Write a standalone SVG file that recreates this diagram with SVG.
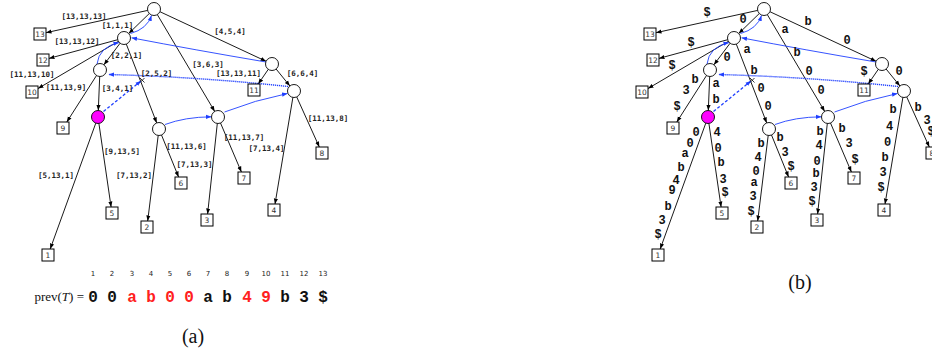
<svg xmlns="http://www.w3.org/2000/svg" width="932" height="353" viewBox="0 0 932 353">
<defs>
<marker id="ah" viewBox="0 0 10 10" refX="10" refY="5" markerWidth="5.5" markerHeight="5.5" markerUnits="userSpaceOnUse" orient="auto"><path d="M0,1.2 L10,5 L0,8.8 z" fill="#000"/></marker>
<marker id="bh" viewBox="0 0 10 10" refX="10" refY="5" markerWidth="5.5" markerHeight="5.5" markerUnits="userSpaceOnUse" orient="auto"><path d="M0,1.2 L10,5 L0,8.8 z" fill="#1f3fff"/></marker>
<style>
.n{fill:#fff;stroke:#000;stroke-width:0.9}
.m{fill:#ff00ff;stroke:#000;stroke-width:0.9}
.lf{fill:#fff;stroke:#000;stroke-width:1}
.lt{font-family:"DejaVu Sans",sans-serif;font-size:7.5px;fill:#333;text-anchor:middle;dominant-baseline:central}
.e{stroke:#000;stroke-width:0.9;fill:none;marker-end:url(#ah)}
.s{stroke:#1f3fff;stroke-width:0.9;fill:none;marker-end:url(#bh)}
.sd{stroke:#1f3fff;stroke-width:1.4;fill:none;stroke-dasharray:1.2,0.8;marker-end:url(#bh)}
.sk{stroke:#1f3fff;stroke-width:1.3;fill:none;stroke-dasharray:3,2;marker-end:url(#bh)}
.x{stroke:#000;stroke-width:0.8}
.bl{font-family:"DejaVu Sans Mono",monospace;font-size:7.5px;font-weight:bold;fill:#222;text-anchor:middle;dominant-baseline:central}
.cl{font-family:"Liberation Mono",monospace;font-size:12px;font-weight:bold;fill:#111;text-anchor:middle;dominant-baseline:central}
.num{font-family:"DejaVu Sans",sans-serif;font-size:7px;fill:#222;text-anchor:middle}
.ch{font-family:"Liberation Mono",monospace;font-size:16px;font-weight:bold;text-anchor:middle;fill:#111}
.r{fill:#ff2020}
.cap{font-family:"Liberation Serif",serif;font-size:20px;fill:#111;text-anchor:middle}
</style>
</defs>

<!-- ================= PANEL A ================= -->
<g id="panel-a">
<g id="a-connectors">
<line class="e" x1="147.7" y1="10.4" x2="46" y2="32.7"/>
<line class="e" x1="149.3" y1="13.5" x2="128.7" y2="33.5"/>
<line class="e" x1="157.3" y1="14.6" x2="214.7" y2="111.4"/>
<line class="e" x1="159.9" y1="11.7" x2="266.1" y2="61.3"/>
<line class="e" x1="117.7" y1="39.7" x2="49" y2="58.4"/>
<line class="e" x1="118.4" y1="41.3" x2="38" y2="88.5"/>
<line class="e" x1="120.1" y1="43.2" x2="103.9" y2="64.8"/>
<line class="e" x1="126.3" y1="44.1" x2="156.7" y2="122.9"/>
<line class="e" x1="96.5" y1="75.5" x2="66.8" y2="122"/>
<line class="e" x1="99.7" y1="76.5" x2="98.3" y2="110.5"/>
<line class="e" x1="95.8" y1="123.1" x2="50.2" y2="249"/>
<line class="e" x1="98.9" y1="123.4" x2="111.1" y2="207"/>
<line class="e" x1="158.2" y1="135.5" x2="147.7" y2="221"/>
<line class="e" x1="161.5" y1="135" x2="178.6" y2="177"/>
<line class="e" x1="217.3" y1="123.5" x2="207.6" y2="214"/>
<line class="e" x1="220.5" y1="123" x2="241.4" y2="172"/>
<line class="e" x1="268.3" y1="69.3" x2="258.2" y2="84"/>
<line class="e" x1="276.1" y1="69" x2="289.9" y2="86"/>
<line class="e" x1="292.9" y1="97.4" x2="275" y2="204"/>
<line class="e" x1="296.7" y1="96.9" x2="319.3" y2="147"/>
<!-- blue links -->
<path class="s" d="M130.5,33.5 Q147,29 151.5,15.5"/>
<path class="s" d="M97,64 Q99,47 119,42.5"/>
<path class="s" d="M266,62 Q195,50 131.5,37.8"/>
<path class="sd" d="M288,86.5 Q200,77 108.5,74.5"/>
<path class="sk" d="M103.5,111.5 L141,81"/>
<path class="s" d="M165,124.5 Q185,117 211.5,116.8"/>
<path class="s" d="M224.5,112 Q255,100 287.5,93.5"/>
<line class="x" x1="140" y1="78" x2="144.5" y2="82.5"/>
<line class="x" x1="140" y1="82.5" x2="144.5" y2="78"/>
<!-- edge labels -->
<text class="bl" x="84" y="16">[13,13,13]</text>
<text class="bl" x="117.5" y="25">[1,1,1]</text>
<text class="bl" x="77" y="41">[13,13,12]</text>
<text class="bl" x="32" y="74">[11,13,10]</text>
<text class="bl" x="126.5" y="55.5">[2,2,1]</text>
<text class="bl" x="156.5" y="73">[2,5,2]</text>
<text class="bl" x="66" y="87">[11,13,9]</text>
<text class="bl" x="117.5" y="88.5">[3,4,1]</text>
<text class="bl" x="230" y="31">[4,5,4]</text>
<text class="bl" x="208" y="64.5">[3,6,3]</text>
<text class="bl" x="238.5" y="73">[13,13,11]</text>
<text class="bl" x="302.5" y="73">[6,6,4]</text>
<text class="bl" x="328" y="118">[11,13,8]</text>
<text class="bl" x="56" y="175">[5,13,1]</text>
<text class="bl" x="122" y="151">[9,13,5]</text>
<text class="bl" x="134" y="175">[7,13,2]</text>
<text class="bl" x="186.5" y="146">[11,13,6]</text>
<text class="bl" x="194.5" y="164">[7,13,3]</text>
<text class="bl" x="244" y="137.5">[11,13,7]</text>
<text class="bl" x="266.5" y="148">[7,13,4]</text>
</g>
<g id="a-root"><circle class="n" cx="154" cy="9" r="6.5"/></g>
<g id="a-n1"><circle class="n" cx="124" cy="38" r="6.5"/></g>
<g id="a-n2"><circle class="n" cx="100" cy="70" r="6.5"/></g>
<g id="a-n3"><circle class="m" cx="98" cy="117" r="6.5"/></g>
<g id="a-n4"><circle class="n" cx="159" cy="129" r="6.5"/></g>
<g id="a-n5"><circle class="n" cx="218" cy="117" r="6.5"/></g>
<g id="a-n6"><circle class="n" cx="272" cy="64" r="6.5"/></g>
<g id="a-n7"><circle class="n" cx="294" cy="91" r="6.5"/></g>
<g id="a-leaf13"><rect class="lf" x="34" y="28" width="12" height="12"/><text class="lt" x="40" y="34">13</text></g>
<g id="a-leaf12"><rect class="lf" x="37" y="54" width="12" height="12"/><text class="lt" x="43" y="60">12</text></g>
<g id="a-leaf10"><rect class="lf" x="26" y="86" width="12" height="12"/><text class="lt" x="32" y="92">10</text></g>
<g id="a-leaf9"><rect class="lf" x="57" y="122" width="12" height="12"/><text class="lt" x="63" y="128">9</text></g>
<g id="a-leaf11"><rect class="lf" x="248" y="84" width="12" height="12"/><text class="lt" x="254" y="90">11</text></g>
<g id="a-leaf1"><rect class="lf" x="42" y="249" width="12" height="12"/><text class="lt" x="48" y="255">1</text></g>
<g id="a-leaf5"><rect class="lf" x="106" y="207" width="12" height="12"/><text class="lt" x="112" y="213">5</text></g>
<g id="a-leaf2"><rect class="lf" x="141" y="221" width="12" height="12"/><text class="lt" x="147" y="227">2</text></g>
<g id="a-leaf6"><rect class="lf" x="175" y="177" width="12" height="12"/><text class="lt" x="181" y="183">6</text></g>
<g id="a-leaf7"><rect class="lf" x="238" y="172" width="12" height="12"/><text class="lt" x="244" y="178">7</text></g>
<g id="a-leaf3"><rect class="lf" x="201" y="214" width="12" height="12"/><text class="lt" x="207" y="220">3</text></g>
<g id="a-leaf4"><rect class="lf" x="268" y="204" width="12" height="12"/><text class="lt" x="274" y="210">4</text></g>
<g id="a-leaf8"><rect class="lf" x="316" y="147" width="12" height="12"/><text class="lt" x="322" y="153">8</text></g>

<g id="prev-array">
<text class="num" x="93" y="276">1</text><text class="num" x="112" y="276">2</text><text class="num" x="132" y="276">3</text><text class="num" x="151" y="276">4</text><text class="num" x="170" y="276">5</text><text class="num" x="189" y="276">6</text><text class="num" x="208" y="276">7</text><text class="num" x="227" y="276">8</text><text class="num" x="247" y="276">9</text><text class="num" x="266" y="276">10</text><text class="num" x="285" y="276">11</text><text class="num" x="304" y="276">12</text><text class="num" x="323" y="276">13</text>
<text x="84" y="301" text-anchor="end" font-family="Liberation Serif, serif" font-size="13" fill="#111">prev(<tspan font-style="italic">T</tspan>) =</text>
<text class="ch" x="93" y="302">0</text>
<text class="ch" x="112" y="302">0</text>
<text class="ch r" x="132" y="302">a</text>
<text class="ch r" x="151" y="302">b</text>
<text class="ch r" x="170" y="302">0</text>
<text class="ch r" x="189" y="302">0</text>
<text class="ch" x="208" y="302">a</text>
<text class="ch" x="227" y="302">b</text>
<text class="ch r" x="247" y="302">4</text>
<text class="ch r" x="266" y="302">9</text>
<text class="ch" x="285" y="302">b</text>
<text class="ch" x="304" y="302">3</text>
<text class="ch" x="323" y="302">$</text>
</g>
<text class="cap" x="193" y="343">(a)</text>
</g>

<!-- ================= PANEL B ================= -->
<g id="panel-b" transform="translate(610,0)">
<g id="b-connectors">
<line class="e" x1="147.7" y1="10.4" x2="46" y2="32.7"/>
<line class="e" x1="149.3" y1="13.5" x2="128.7" y2="33.5"/>
<line class="e" x1="157.3" y1="14.6" x2="214.7" y2="111.4"/>
<line class="e" x1="159.9" y1="11.7" x2="266.1" y2="61.3"/>
<line class="e" x1="117.7" y1="39.7" x2="49" y2="58.4"/>
<line class="e" x1="118.4" y1="41.3" x2="38" y2="88.5"/>
<line class="e" x1="120.1" y1="43.2" x2="103.9" y2="64.8"/>
<line class="e" x1="126.3" y1="44.1" x2="156.7" y2="122.9"/>
<line class="e" x1="96.5" y1="75.5" x2="66.8" y2="122"/>
<line class="e" x1="99.7" y1="76.5" x2="98.3" y2="110.5"/>
<line class="e" x1="95.8" y1="123.1" x2="50.2" y2="249"/>
<line class="e" x1="98.9" y1="123.4" x2="111.1" y2="207"/>
<line class="e" x1="158.2" y1="135.5" x2="147.7" y2="221"/>
<line class="e" x1="161.5" y1="135" x2="178.6" y2="177"/>
<line class="e" x1="217.3" y1="123.5" x2="207.6" y2="214"/>
<line class="e" x1="220.5" y1="123" x2="241.4" y2="172"/>
<line class="e" x1="268.3" y1="69.3" x2="258.2" y2="84"/>
<line class="e" x1="276.1" y1="69" x2="289.9" y2="86"/>
<line class="e" x1="292.9" y1="97.4" x2="275" y2="204"/>
<line class="e" x1="296.7" y1="96.9" x2="319.3" y2="147"/>
<path class="s" d="M130.5,33.5 Q147,29 151.5,15.5"/>
<path class="s" d="M97,64 Q99,47 119,42.5"/>
<path class="s" d="M266,62 Q195,50 131.5,37.8"/>
<path class="sd" d="M288,86.5 Q200,77 108.5,74.5"/>
<path class="sk" d="M103.5,111.5 L141,81"/>
<path class="s" d="M165,124.5 Q185,117 211.5,116.8"/>
<path class="s" d="M224.5,112 Q255,100 287.5,93.5"/>
<line class="x" x1="140" y1="78" x2="144.5" y2="82.5"/>
<line class="x" x1="140" y1="82.5" x2="144.5" y2="78"/>
<!-- character labels -->
<text class="cl" x="97" y="13">$</text>
<text class="cl" x="133" y="20">0</text>
<text class="cl" x="175" y="30">a</text><text class="cl" x="187" y="53">b</text><text class="cl" x="199" y="72">0</text><text class="cl" x="211" y="91">0</text>
<text class="cl" x="198" y="22">b</text><text class="cl" x="237" y="41">0</text>
<text class="cl" x="81" y="43">$</text>
<text class="cl" x="62" y="66">$</text>
<text class="cl" x="85" y="80">b</text><text class="cl" x="76" y="91">3</text><text class="cl" x="67" y="107">$</text>
<text class="cl" x="117" y="58">0</text>
<text class="cl" x="137" y="50">a</text><text class="cl" x="144" y="71">b</text><text class="cl" x="151" y="89">0</text><text class="cl" x="158" y="107">0</text>
<text class="cl" x="106" y="84">a</text><text class="cl" x="106" y="100">b</text>
<text class="cl" x="86" y="133">0</text><text class="cl" x="80" y="144">0</text><text class="cl" x="75" y="154">a</text><text class="cl" x="71" y="168">b</text><text class="cl" x="66" y="181">4</text><text class="cl" x="62" y="191">9</text><text class="cl" x="58" y="207">b</text><text class="cl" x="52" y="221">3</text><text class="cl" x="48" y="235">$</text>
<text class="cl" x="107" y="133">4</text><text class="cl" x="108" y="149">0</text><text class="cl" x="111" y="163">b</text><text class="cl" x="113" y="180">3</text><text class="cl" x="115" y="193">$</text>
<text class="cl" x="151" y="144">b</text><text class="cl" x="148" y="158">4</text><text class="cl" x="146" y="172">0</text><text class="cl" x="144" y="183">a</text><text class="cl" x="143" y="197">3</text><text class="cl" x="141" y="212">$</text>
<text class="cl" x="170" y="138">b</text><text class="cl" x="175" y="153">3</text><text class="cl" x="181" y="167">$</text>
<text class="cl" x="210" y="132">b</text><text class="cl" x="209" y="146">4</text><text class="cl" x="207" y="162">0</text><text class="cl" x="206" y="174">b</text><text class="cl" x="204" y="188">3</text><text class="cl" x="202" y="202">$</text>
<text class="cl" x="232" y="129">b</text><text class="cl" x="239" y="144">3</text><text class="cl" x="245" y="160">$</text>
<text class="cl" x="254" y="72">$</text>
<text class="cl" x="289" y="72">0</text>
<text class="cl" x="283" y="110">b</text><text class="cl" x="279.5" y="127">4</text><text class="cl" x="277.5" y="142.5">0</text><text class="cl" x="275" y="158">b</text><text class="cl" x="273" y="173">3</text><text class="cl" x="271" y="188">$</text>
<text class="cl" x="308" y="108">b</text><text class="cl" x="317" y="121">3</text><text class="cl" x="321" y="132">$</text>
</g>
<g id="b-root"><circle class="n" cx="154" cy="9" r="6.5"/></g>
<g id="b-n1"><circle class="n" cx="124" cy="38" r="6.5"/></g>
<g id="b-n2"><circle class="n" cx="100" cy="70" r="6.5"/></g>
<g id="b-n3"><circle class="m" cx="98" cy="117" r="6.5"/></g>
<g id="b-n4"><circle class="n" cx="159" cy="129" r="6.5"/></g>
<g id="b-n5"><circle class="n" cx="218" cy="117" r="6.5"/></g>
<g id="b-n6"><circle class="n" cx="272" cy="64" r="6.5"/></g>
<g id="b-n7"><circle class="n" cx="294" cy="91" r="6.5"/></g>
<g id="b-leaf13"><rect class="lf" x="34" y="28" width="12" height="12"/><text class="lt" x="40" y="34">13</text></g>
<g id="b-leaf12"><rect class="lf" x="37" y="54" width="12" height="12"/><text class="lt" x="43" y="60">12</text></g>
<g id="b-leaf10"><rect class="lf" x="26" y="86" width="12" height="12"/><text class="lt" x="32" y="92">10</text></g>
<g id="b-leaf9"><rect class="lf" x="57" y="122" width="12" height="12"/><text class="lt" x="63" y="128">9</text></g>
<g id="b-leaf11"><rect class="lf" x="248" y="84" width="12" height="12"/><text class="lt" x="254" y="90">11</text></g>
<g id="b-leaf1"><rect class="lf" x="42" y="249" width="12" height="12"/><text class="lt" x="48" y="255">1</text></g>
<g id="b-leaf5"><rect class="lf" x="106" y="207" width="12" height="12"/><text class="lt" x="112" y="213">5</text></g>
<g id="b-leaf2"><rect class="lf" x="141" y="221" width="12" height="12"/><text class="lt" x="147" y="227">2</text></g>
<g id="b-leaf6"><rect class="lf" x="175" y="177" width="12" height="12"/><text class="lt" x="181" y="183">6</text></g>
<g id="b-leaf7"><rect class="lf" x="238" y="172" width="12" height="12"/><text class="lt" x="244" y="178">7</text></g>
<g id="b-leaf3"><rect class="lf" x="201" y="214" width="12" height="12"/><text class="lt" x="207" y="220">3</text></g>
<g id="b-leaf4"><rect class="lf" x="268" y="204" width="12" height="12"/><text class="lt" x="274" y="210">4</text></g>
<g id="b-leaf8"><rect class="lf" x="316" y="147" width="12" height="12"/><text class="lt" x="322" y="153">8</text></g>
<text class="cap" x="190" y="289">(b)</text>
</g>
</svg>
